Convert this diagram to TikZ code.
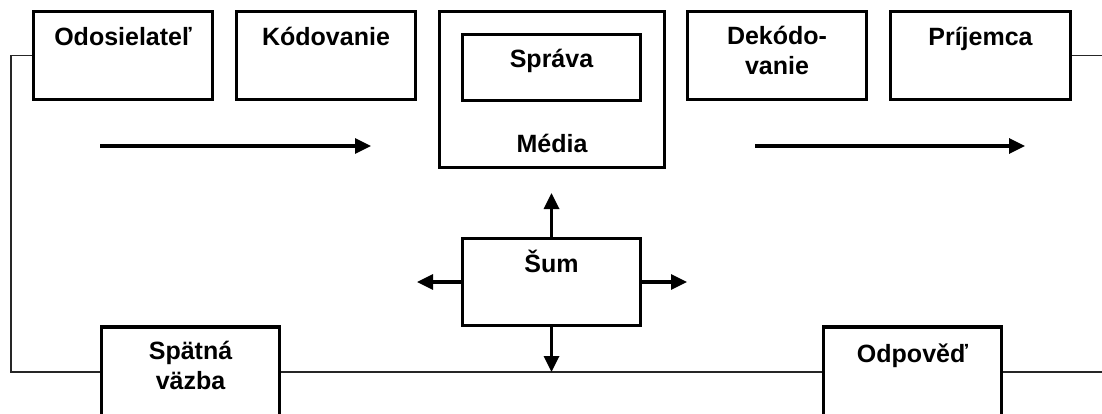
\documentclass[tikz,border=0pt]{standalone}
\usepackage{fontspec}
\setmainfont{Liberation Sans}
\usetikzlibrary{arrows.meta}
\begin{document}
\begin{tikzpicture}[x=1pt,y=-1pt,
  box/.style={draw=black,line width=3.4pt,fill=white,inner sep=0pt},
  lbl/.style={anchor=base,inner sep=0pt,align=center,font=\fontsize{25}{30}\selectfont\bfseries},
  fb/.style={draw=black!85,line width=1.5pt},
  arr/.style={line width=3.3pt,-{Triangle[length=16pt,width=15pt]}}]
\useasboundingbox (0,0) rectangle (1102,414);
\clip (0,0) rectangle (1102,414);
% feedback line end points
\coordinate (lt) at (11,55.5);
\coordinate (lb) at (11,372);
\coordinate (rb) at (1110,372);
\coordinate (rt) at (1110,55.5);
% top row
\node[box,minimum width=179,minimum height=88] (ods) at (123,55.5) {};
\node[box,minimum width=179,minimum height=88] (kod) at (326,55.5) {};
\node[box,minimum width=225,minimum height=156] (med) at (552,89.5) {};
\node[box,minimum width=178,minimum height=66] (spr) at (551.5,67.5) {};
\node[box,minimum width=179,minimum height=88] (dek) at (777,55.5) {};
\node[box,minimum width=180,minimum height=88] (pri) at (980.5,55.5) {};
% bottom row
\node[box,minimum width=178,minimum height=87] (sum) at (551.5,282) {};
\draw[fb] (ods.west) -- (lt) -- (lb) -- (rb);
\draw[fb] (pri.east) -- (rt);
\node[box,minimum width=178,minimum height=110] (spa) at (190.5,382) {};
\node[box,minimum width=178,minimum height=110] (odp) at (912.5,382) {};
% texts
\node[lbl] (odsT) at (123,46) {Odosielateľ};
\node[lbl] (kodT) at (326,46) {Kódovanie};
\node[lbl] (sprT) at (551.5,68) {Správa};
\node[lbl] (medT) at (552,153) {Média};
\node[lbl] (dekT) at (777,75) {Dekódo-\\vanie};
\node[lbl] (priT) at (980.5,46) {Príjemca};
\node[lbl] (sumT) at (551.5,272) {Šum};
\node[lbl] (spaT) at (190.5,389) {Spätná\\väzba};
\node[lbl] (odpT) at (912.5,362) {Odpověď};
% flow arrows
\coordinate (a1s) at (100,146);
\coordinate (a1e) at (371,146);
\coordinate (a2s) at (755,146);
\coordinate (a2e) at (1025,146);
\draw[arr] (a1s) -- (a1e);
\draw[arr] (a2s) -- (a2e);
% noise arrows
\coordinate (nu) at (551.5,193);
\coordinate (nd) at (551.5,372);
\coordinate (nl) at (417,282);
\coordinate (nr) at (687,282);
\draw[arr] (sum.north) -- (nu);
\draw[arr] (sum.south) -- (nd);
\draw[arr] (sum.west) -- (nl);
\draw[arr] (sum.east) -- (nr);
\end{tikzpicture}
\end{document}
